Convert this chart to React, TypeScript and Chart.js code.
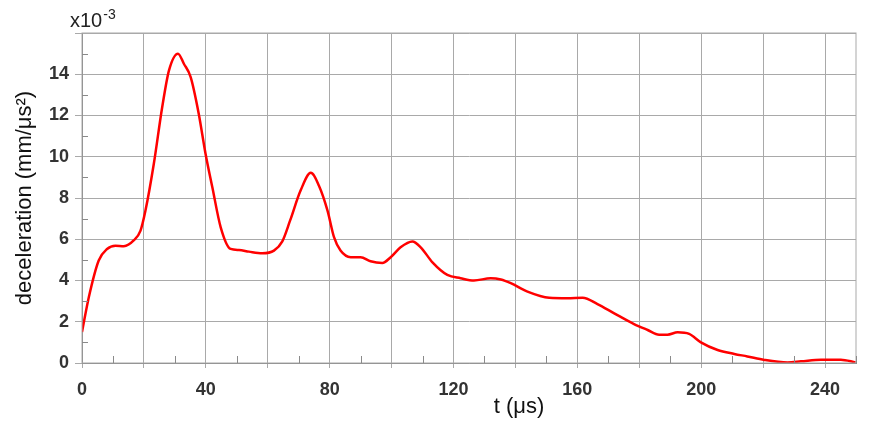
import React, { useEffect, useRef } from "react";
import { Chart, registerables } from "chart.js";

Chart.register(...registerables);

const tValues = [
  0, 2.2, 5.4, 8.1, 10.8, 13.5, 16.7, 18.9, 20.5, 23.2, 25.9, 28.1, 31.0, 32.9, 35.1, 37.7, 39.9,
  42.1, 44.8, 48.0, 50.7, 53.9, 58.2, 62.0, 64.7, 67.2, 70.6, 73.9, 76.5, 79.3, 81.4, 83.5, 86.8,
  90.0, 93.2, 97.0, 99.7, 102.9, 106.7, 109.4, 113.2, 118.0, 122.3, 126.6, 132.0, 135.3, 138.5,
  143.9, 150.9, 156.8, 161.7, 166.5, 171.9, 178.3, 182.7, 186.4, 189.1, 192.4, 196.1, 199.9,
  205.3, 210.7, 214.9, 220.4, 227.9, 232.2, 238.7, 245.1, 249.9,
];
const decelValues = [
  1.5, 3.19, 4.97, 5.53, 5.69, 5.66, 5.94, 6.42, 7.39, 9.66, 12.4, 14.19, 15.0, 14.51, 13.86, 12.09,
  10.15, 8.52, 6.58, 5.53, 5.48, 5.4, 5.32, 5.45, 5.9, 6.9, 8.36, 9.22, 8.61, 7.39, 6.1, 5.45, 5.13,
  5.13, 4.93, 4.85, 5.13, 5.61, 5.89, 5.61, 4.88, 4.27, 4.11, 4.0, 4.11, 4.05, 3.87, 3.46, 3.16,
  3.14, 3.16, 2.86, 2.41, 1.89, 1.6, 1.37, 1.37, 1.49, 1.41, 1.0, 0.63, 0.44, 0.32, 0.15, 0.03, 0.08,
  0.16, 0.16, 0.03,
];
const xGridValues = [0, 20, 40, 60, 80, 100, 120, 140, 160, 180, 200, 220, 240];
const xLabelValues = [0, 40, 80, 120, 160, 200, 240];
const xMinorValues = [10, 30, 50, 70, 90, 110, 130, 150, 170, 190, 210, 230, 250];
const yLabelValues = [0, 2, 4, 6, 8, 10, 12, 14];
const yMinorValues = [1, 3, 5, 7, 9, 11, 13, 15];

const FONT = "'Liberation Sans', Arial, sans-serif";
const GRID = "#a9a9a9";

const decorPlugin = {
  id: "decor",
  afterDraw(chart: any) {
    const { ctx, chartArea, scales } = chart;
    const xs = scales.x;
    const ys = scales.y;
    ctx.save();
    ctx.strokeStyle = GRID;
    ctx.lineWidth = 1;
    ctx.strokeRect(chartArea.left, chartArea.top, chartArea.right - chartArea.left, chartArea.bottom - chartArea.top);
    ctx.strokeStyle = "#8a8a8a";
    ctx.beginPath();
    for (const v of xMinorValues) {
      const px = Math.round(xs.getPixelForValue(v)) + 0.5;
      ctx.moveTo(px, chartArea.bottom);
      ctx.lineTo(px, chartArea.bottom - 7);
    }
    for (const v of yMinorValues) {
      const py = Math.round(ys.getPixelForValue(v)) + 0.5;
      ctx.moveTo(chartArea.left, py);
      ctx.lineTo(chartArea.left + 6, py);
    }
    ctx.stroke();
    ctx.fillStyle = "#111";
    ctx.font = `22px ${FONT}`;
    ctx.textAlign = "center";
    ctx.textBaseline = "middle";
    ctx.fillText("t (\u03bcs)", 519, 407);
    ctx.textAlign = "left";
    ctx.textBaseline = "alphabetic";
    ctx.font = `20px ${FONT}`;
    ctx.fillStyle = "#222";
    ctx.fillText("x10", 70, 27);
    const w = ctx.measureText("x10").width;
    ctx.font = `14px ${FONT}`;
    ctx.fillText("-3", 70 + w + 1, 19);
    ctx.restore();
  },
};

export default function App() {
  const ref = useRef<HTMLCanvasElement>(null);
  useEffect(() => {
    if (!ref.current) return;
    const chart = new Chart(ref.current, {
      type: "line",
      data: {
        datasets: [
          {
            data: tValues.map((t, i) => ({ x: t, y: decelValues[i] })),
            borderColor: "#ff0000",
            borderWidth: 2.5,
            pointRadius: 0,
            fill: false,
            cubicInterpolationMode: "monotone",
          },
        ],
      },
      options: {
        responsive: false,
        animation: false,
        devicePixelRatio: 1,
        layout: { padding: { top: 33, right: 16, left: 0, bottom: 0 } },
        plugins: { legend: { display: false }, tooltip: { enabled: false } },
        scales: {
          x: {
            type: "linear",
            min: 0,
            max: 250,
            afterBuildTicks: (s: any) => {
              s.ticks = xGridValues.map((v) => ({ value: v }));
            },
            afterFit: (s: any) => {
              s.height = 63;
            },
            grid: { color: GRID, tickLength: 5, lineWidth: 1 },
            border: { color: "#808080", width: 1 },
            ticks: {
              autoSkip: false,
              maxRotation: 0,
              padding: 11,
              color: "#333",
              font: { family: FONT, size: 18, weight: "bold" },
              callback: (v: any) => (xLabelValues.includes(v) ? String(v) : ""),
            },
          },
          y: {
            type: "linear",
            min: 0,
            max: 16,
            afterBuildTicks: (s: any) => {
              s.ticks = [...yLabelValues, 16].map((v) => ({ value: v }));
            },
            afterFit: (s: any) => {
              s.width = 82;
            },
            grid: { color: GRID, tickLength: 7, lineWidth: 1 },
            border: { color: "#808080", width: 1 },
            title: {
              display: true,
              text: "deceleration (mm/\u03bcs\u00b2)",
              color: "#111",
              font: { family: FONT, size: 22 },
              padding: { top: 12, bottom: 4 },
            },
            ticks: {
              autoSkip: false,
              padding: 6,
              color: "#333",
              font: { family: FONT, size: 18, weight: "bold" },
              callback: (v: any) => (yLabelValues.includes(v) ? String(v) : ""),
            },
          },
        },
      },
      plugins: [decorPlugin],
    });
    return () => chart.destroy();
  }, []);
  return (
    <div style={{ position: "fixed", left: 0, top: 0, width: 872, height: 426, background: "#fff" }}>
      <canvas ref={ref} width={872} height={426} style={{ display: "block" }} />
    </div>
  );
}
